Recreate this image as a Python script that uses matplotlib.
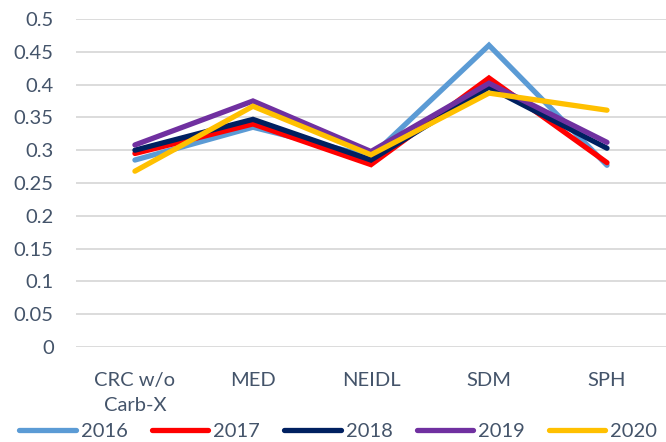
import matplotlib
matplotlib.use("Agg")
import matplotlib.pyplot as plt

# categorias y valores por anio
categorias = ["CRC w/o\nCarb-X", "MED", "NEIDL", "SDM", "SPH"]
anios = ["2016", "2017", "2018", "2019", "2020"]
v2016 = [0.285, 0.335, 0.290, 0.460, 0.277]
v2017 = [0.295, 0.340, 0.278, 0.410, 0.281]
v2018 = [0.300, 0.347, 0.285, 0.396, 0.303]
v2019 = [0.308, 0.375, 0.298, 0.402, 0.312]
v2020 = [0.268, 0.367, 0.293, 0.387, 0.361]
colores = ["#5B9BD5", "#FF0000", "#002060", "#7030A0", "#FFC000"]
yticks = [0, 0.05, 0.1, 0.15, 0.2, 0.25, 0.3, 0.35, 0.4, 0.45, 0.5]

plt.rcParams['font.family'] = ['Lato', 'DejaVu Sans']
gris = "#44546A"
tam = 14.5

fig = plt.figure(figsize=(6.66, 4.42), dpi=100)
ax = fig.add_axes([0.114, 0.215, 0.886, 0.742])

x = range(len(categorias))
for serie, nombre, c in zip([v2016, v2017, v2018, v2019, v2020], anios, colores):
    ax.plot(x, serie, color=c, lw=3.8, label=nombre,
            solid_capstyle='round', solid_joinstyle='miter')

ax.set_xlim(-0.5, 4.5)
ax.set_ylim(0, 0.5)
ax.set_yticks(yticks)
ax.set_yticklabels([f"{t:g}" for t in yticks])
ax.set_xticks(list(x))
ax.set_xticklabels(categorias, linespacing=1.55)
ax.grid(axis='y', color="#D9D9D9", lw=1.3)
ax.set_axisbelow(True)
for s in ax.spines.values():
    s.set_visible(False)
ax.tick_params(length=0, labelsize=tam, colors=gris)
ax.tick_params(axis='y', pad=16)
ax.tick_params(axis='x', pad=18)

fig.legend(loc='lower center', bbox_to_anchor=(0.508, 0.004), ncol=5, frameon=False,
           fontsize=tam, labelcolor=gris, handlelength=2.8, handletextpad=0.25,
           columnspacing=1.2, borderpad=0, borderaxespad=0)

fig.savefig("out.png", dpi=100)
